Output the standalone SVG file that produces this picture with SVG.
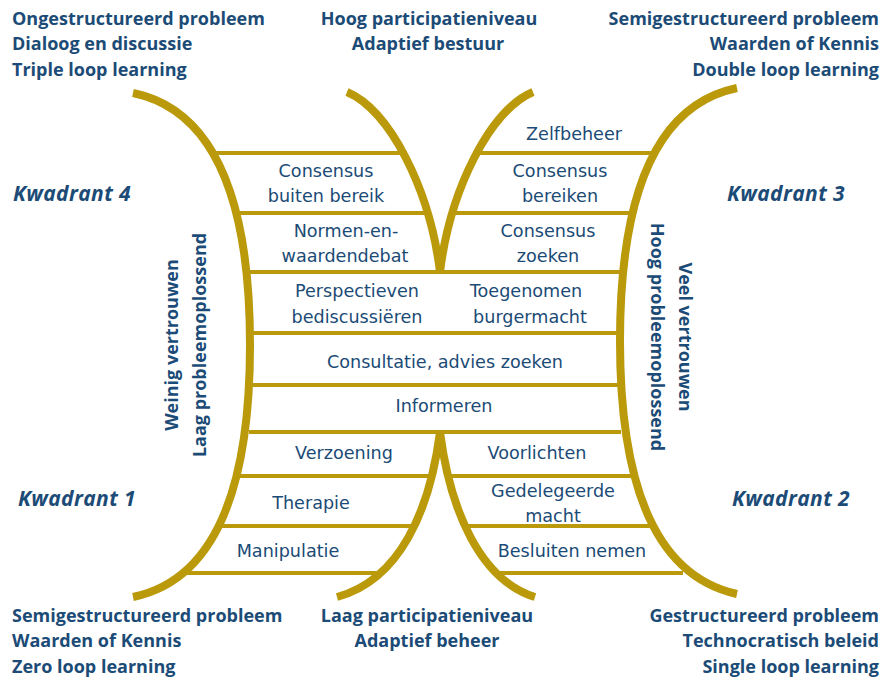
<svg xmlns="http://www.w3.org/2000/svg" width="885" height="680" viewBox="0 0 885 680">
<style>
.rung{stroke:#BA9A0A;stroke-width:4;fill:none}
.arc{stroke:#BA9A0A;stroke-width:8;fill:none}
.h{font-family:"Open Sans","DejaVu Sans",sans-serif;font-weight:700;font-size:18px;fill:#1B4B76}
.k{font-family:"Open Sans","DejaVu Sans",sans-serif;font-weight:700;font-style:italic;font-size:21px;letter-spacing:0.4px;fill:#1B4B76}
.l{font-family:"DejaVu Sans","Open Sans",sans-serif;font-size:17.6px;fill:#1B4B76;text-anchor:middle}
.m{text-anchor:middle}
.e{text-anchor:end}
</style>
<rect width="885" height="680" fill="#ffffff"/>
<g id="connectors">
<path class="rung" d="M213,153H407M473,153H657M238,213H428M452,213H633M247,272H623M250,333H620M250,385H620M249,432H621M237,476H432M448,476H633M220,526H416M464,526H650M187,573H384M496,573H683"/>
<path class="arc" d="M133,93C215,110 250,200 250,345C250,490 215,580 133,597"/>
<path class="arc" d="M737,88C655,105 620,195 620,341C620,486 655,576 737,594"/>
<path class="arc" d="M347,92C390,110 430,190 440,272"/>
<path class="arc" d="M533,92C490,110 450,190 440,272"/>
<path class="arc" d="M440,432C430,510 400,580 337,597"/>
<path class="arc" d="M440,432C450,510 480,580 535,597"/>
</g>
<g id="corner-top-left"><text class="h" x="12" y="25">Ongestructureerd probleem</text><text class="h" x="12" y="50">Dialoog en discussie</text><text class="h" x="12" y="76">Triple loop learning</text></g>
<g id="top-center"><text class="h m" x="429" y="25">Hoog participatieniveau</text><text class="h m" x="428" y="50">Adaptief bestuur</text></g>
<g id="corner-top-right"><text class="h e" x="879" y="25">Semigestructureerd probleem</text><text class="h e" x="879" y="50">Waarden of Kennis</text><text class="h e" x="879" y="76">Double loop learning</text></g>
<g id="corner-bottom-left"><text class="h" x="12" y="622">Semigestructureerd probleem</text><text class="h" x="12" y="647">Waarden of Kennis</text><text class="h" x="12" y="673">Zero loop learning</text></g>
<g id="bottom-center"><text class="h m" x="427" y="622">Laag participatieniveau</text><text class="h m" x="427" y="647">Adaptief beheer</text></g>
<g id="corner-bottom-right"><text class="h e" x="879" y="622">Gestructureerd probleem</text><text class="h e" x="879" y="647">Technocratisch beleid</text><text class="h e" x="879" y="673">Single loop learning</text></g>
<g id="kwadrant-4"><text class="k" x="13" y="201">Kwadrant 4</text></g>
<g id="kwadrant-3"><text class="k" x="727" y="201">Kwadrant 3</text></g>
<g id="kwadrant-1"><text class="k" x="18" y="506">Kwadrant 1</text></g>
<g id="kwadrant-2"><text class="k" x="732" y="506">Kwadrant 2</text></g>
<g id="axis-left"><text class="h m" transform="translate(178,345) rotate(-90)">Weinig vertrouwen</text><text class="h m" transform="translate(206,345) rotate(-90)">Laag probleemoplossend</text></g>
<g id="axis-right"><text class="h m" transform="translate(679,337) rotate(90)">Veel vertrouwen</text><text class="h m" transform="translate(651,337) rotate(90)">Hoog probleemoplossend</text></g>
<g id="consensus-buiten-bereik"><text class="l" x="326" y="177">Consensus</text><text class="l" x="326" y="202">buiten bereik</text></g>
<g id="normen-en-waardendebat"><text class="l" x="346" y="237">Normen-en-</text><text class="l" x="345" y="262">waardendebat</text></g>
<g id="perspectieven"><text class="l" x="357" y="297">Perspectieven</text><text class="l" x="357" y="323">bediscussiëren</text></g>
<g id="zelfbeheer"><text class="l" x="574" y="140">Zelfbeheer</text></g>
<g id="consensus-bereiken"><text class="l" x="560" y="177">Consensus</text><text class="l" x="560" y="202">bereiken</text></g>
<g id="consensus-zoeken"><text class="l" x="548" y="237">Consensus</text><text class="l" x="548" y="262">zoeken</text></g>
<g id="toegenomen-burgermacht"><text class="l" x="526" y="297">Toegenomen</text><text class="l" x="530" y="323">burgermacht</text></g>
<g id="consultatie"><text class="l" x="445" y="368">Consultatie, advies zoeken</text></g>
<g id="informeren"><text class="l" x="444" y="412">Informeren</text></g>
<g id="verzoening"><text class="l" x="344" y="459">Verzoening</text></g>
<g id="voorlichten"><text class="l" x="537" y="459">Voorlichten</text></g>
<g id="therapie"><text class="l" x="311" y="509">Therapie</text></g>
<g id="gedelegeerde-macht"><text class="l" x="553" y="497">Gedelegeerde</text><text class="l" x="553" y="522">macht</text></g>
<g id="manipulatie"><text class="l" x="288" y="557">Manipulatie</text></g>
<g id="besluiten-nemen"><text class="l" x="572" y="557">Besluiten nemen</text></g>
</svg>
